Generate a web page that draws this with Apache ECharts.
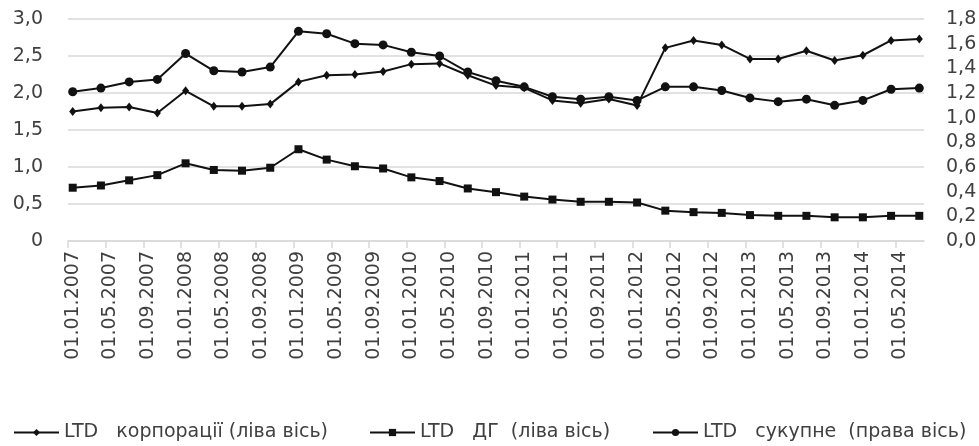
<!DOCTYPE html>
<html>
<head>
<meta charset="utf-8">
<script src="https://cdn.jsdelivr.net/npm/echarts@6/dist/echarts.min.js"></script>
<style>
html,body{margin:0;padding:0;background:#fff;}
#chart{width:979px;height:446px;}
</style>
</head>
<body>
<div id="chart"></div>
<script>
// Quarterly observation dates
const dates = [
  '01.01.2007','01.04.2007','01.07.2007','01.10.2007',
  '01.01.2008','01.04.2008','01.07.2008','01.10.2008',
  '01.01.2009','01.04.2009','01.07.2009','01.10.2009',
  '01.01.2010','01.04.2010','01.07.2010','01.10.2010',
  '01.01.2011','01.04.2011','01.07.2011','01.10.2011',
  '01.01.2012','01.04.2012','01.07.2012','01.10.2012',
  '01.01.2013','01.04.2013','01.07.2013','01.10.2013',
  '01.01.2014','01.04.2014','01.07.2014'
];
// LTD корпорації (left axis)
const ltdCorp = [1.75,1.80,1.81,1.73,2.03,1.82,1.82,1.85,2.15,2.24,2.25,2.29,2.39,2.40,2.24,2.10,2.07,1.90,1.86,1.92,1.83,2.61,2.71,2.65,2.46,2.46,2.57,2.44,2.51,2.71,2.73];
// LTD ДГ (left axis)
const ltdHH = [0.72,0.75,0.82,0.89,1.05,0.96,0.95,0.99,1.24,1.10,1.01,0.98,0.86,0.81,0.71,0.66,0.60,0.56,0.53,0.53,0.52,0.41,0.39,0.38,0.35,0.34,0.34,0.32,0.32,0.34,0.34];
// LTD сукупне (right axis)
const ltdTotal = [1.21,1.24,1.29,1.31,1.52,1.38,1.37,1.41,1.70,1.68,1.60,1.59,1.53,1.50,1.37,1.30,1.25,1.17,1.15,1.17,1.14,1.25,1.25,1.22,1.16,1.13,1.15,1.10,1.14,1.23,1.24];
// X tick labels (every 4 months)
const tickLabels = [
  '01.01.2007','01.05.2007','01.09.2007','01.01.2008','01.05.2008','01.09.2008',
  '01.01.2009','01.05.2009','01.09.2009','01.01.2010','01.05.2010','01.09.2010',
  '01.01.2011','01.05.2011','01.09.2011','01.01.2012','01.05.2012','01.09.2012',
  '01.01.2013','01.05.2013','01.09.2013','01.01.2014','01.05.2014'
];
const axisEnd = '01.08.2014';
const seriesNames = ['LTD   корпорації (ліва вісь)', 'LTD   ДГ  (ліва вісь)', 'LTD   сукупне  (права вісь)'];

function monthIndex(s) {
  const p = s.split('.');
  return (parseInt(p[2], 10) - 2007) * 12 + (parseInt(p[1], 10) - 1);
}
const labelMap = {};
tickLabels.forEach(function (t) { labelMap[(monthIndex(t) + 0.5).toFixed(1)] = t; });
const tickVals = tickLabels.map(function (t) { return monthIndex(t); });
const labelVals = tickLabels.map(function (t) { return monthIndex(t) + 0.5; });
function pts(arr) { return arr.map(function (v, i) { return [monthIndex(dates[i]) + 0.5, v]; }); }

const FONT = '"DejaVu Sans"';
const FS = 19;
const TXT = '#404040';
const LINE = '#111111';
const GRID = '#d9d9d9';
const chart = echarts.init(document.getElementById('chart'), null, {renderer: 'canvas'});
function legendCfg(name, left) {
  return {
    data: [name], left: left, top: 418, itemWidth: 45, itemHeight: 9, itemGap: 0,
    textStyle: {fontFamily: FONT, fontSize: FS, color: TXT},
    selectedMode: false
  };
}
chart.setOption({
  animation: false,
  backgroundColor: '#fff',
  grid: {left: 68, right: 55, top: 19, bottom: 205, containLabel: false, outerBoundsMode: 'none'},
  legend: [legendCfg(seriesNames[0], 8), legendCfg(seriesNames[1], 364), legendCfg(seriesNames[2], 647)],
  xAxis: {
    type: 'value', min: 0, max: monthIndex(axisEnd),
    axisLine: {lineStyle: {color: GRID, width: 1.5}},
    axisTick: {show: true, length: 7, customValues: tickVals, lineStyle: {color: GRID, width: 1.5}},
    axisLabel: {
      customValues: labelVals, rotate: 90, margin: 10,
      fontFamily: FONT, fontSize: FS, color: TXT,
      formatter: function (v) { return labelMap[v.toFixed(1)] || ''; }
    },
    splitLine: {show: false}
  },
  yAxis: [{
    type: 'value', min: 0, max: 3, interval: 0.5,
    axisLine: {show: false}, axisTick: {show: false},
    axisLabel: {margin: 25, fontFamily: FONT, fontSize: FS, color: TXT,
      formatter: function (v) { return v === 0 ? '0' : v.toFixed(1).replace('.', ','); }},
    splitLine: {lineStyle: {color: GRID, width: 1.5}}
  }, {
    type: 'value', min: 0, max: 1.8, interval: 0.2,
    axisLine: {show: false}, axisTick: {show: false},
    axisLabel: {margin: 22, fontFamily: FONT, fontSize: FS, color: TXT,
      formatter: function (v) { return v.toFixed(1).replace('.', ','); }},
    splitLine: {show: false}
  }],
  series: [{
    name: seriesNames[0], type: 'line', yAxisIndex: 0, data: pts(ltdCorp),
    symbol: 'diamond', symbolSize: [7, 9],
    lineStyle: {color: LINE, width: 2}, itemStyle: {color: LINE}
  }, {
    name: seriesNames[1], type: 'line', yAxisIndex: 0, data: pts(ltdHH),
    symbol: 'rect', symbolSize: 8,
    lineStyle: {color: LINE, width: 2}, itemStyle: {color: LINE}
  }, {
    name: seriesNames[2], type: 'line', yAxisIndex: 1, data: pts(ltdTotal),
    symbol: 'circle', symbolSize: 9,
    lineStyle: {color: LINE, width: 2}, itemStyle: {color: LINE}
  }]
});
</script>
</body>
</html>
